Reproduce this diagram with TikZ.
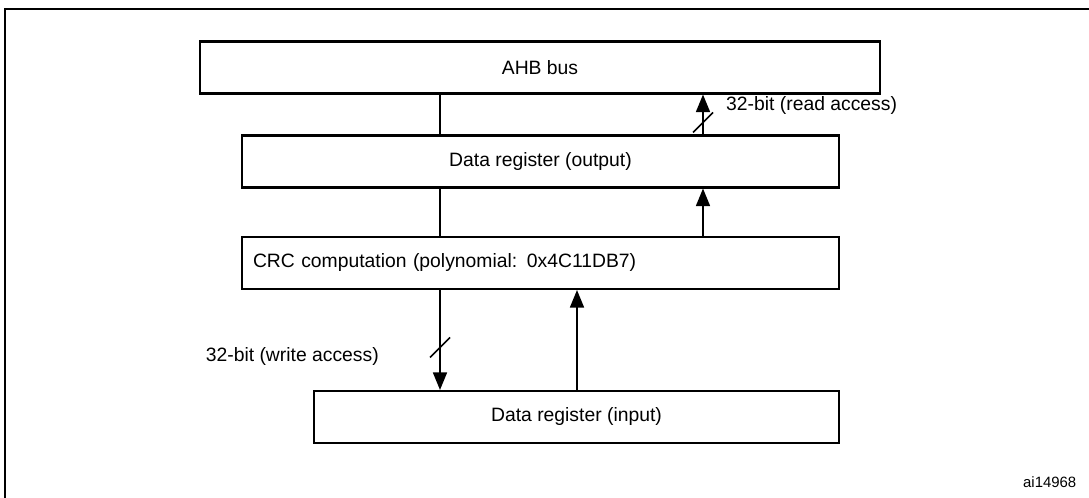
\documentclass[tikz,border=0pt]{standalone}
\usepackage{fontspec}
\setmainfont{Liberation Sans}
\usetikzlibrary{arrows.meta}
\begin{document}
\begin{tikzpicture}
        \tikzset{
        blk/.style={draw, line width=1.2pt, minimum height=1.04cm, font=\fontsize{11}{13}\selectfont, inner sep=0pt},
        bus/.style={-{Triangle[length=10pt,width=8pt]}, line width=0.9pt},
        wire/.style={line width=0.9pt},
        lbl/.style={font=\fontsize{11}{13}\selectfont},
        }
        \useasboundingbox (0,0) rectangle (21.78,-9.96);
        \draw[line width=1.2pt] (0.1,-10.2) -- (0.1,-0.18) -- (22,-0.18);

        \node[blk, minimum width=13.6cm] (ahb) at (10.8,-1.35) {AHB bus};
        \node[blk, minimum width=11.94cm] (dout) at (10.81,-3.23) {Data register (output)};
        \node[blk, minimum width=11.94cm, text width=11.5cm, align=left] (crc) at (10.81,-5.26) {CRC computation (polynomial: 0x4C11DB7)};
        \node[blk, minimum width=10.5cm] (din) at (11.53,-8.34) {Data register (input)};

        \draw[wire] (ahb.south -| 8.8,0) -- (dout.north -| 8.8,0);
        \draw[wire] (dout.south -| 8.8,0) -- (crc.north -| 8.8,0);
        \draw[bus] (dout.north -| 14.06,0) -- (ahb.south -| 14.06,0);
        \draw[bus] (crc.north -| 14.06,0) -- (dout.south -| 14.06,0);
        \draw[bus] (din.north -| 11.54,0) -- (crc.south -| 11.54,0);
        \draw[bus] (crc.south -| 8.8,0) -- (din.north -| 8.8,0);

        \coordinate (rs) at (14.06,-2.45);
        \coordinate (ws) at (8.8,-6.95);
        \draw[wire] ([shift={(-0.2,-0.2)}]rs) -- ([shift={(0.2,0.2)}]rs);
        \draw[wire] ([shift={(-0.2,-0.2)}]ws) -- ([shift={(0.2,0.2)}]ws);
        \node[lbl, anchor=west] (rlbl) at (14.4,-2.1) {32-bit (read access)};
        \node[lbl, anchor=east] (wlbl) at (7.7,-7.12) {32-bit (write access)};
        \node[lbl, anchor=east, font=\fontsize{8.5}{10}\selectfont] (fid) at (21.65,-9.65) {ai14968};
\end{tikzpicture}
\end{document}
